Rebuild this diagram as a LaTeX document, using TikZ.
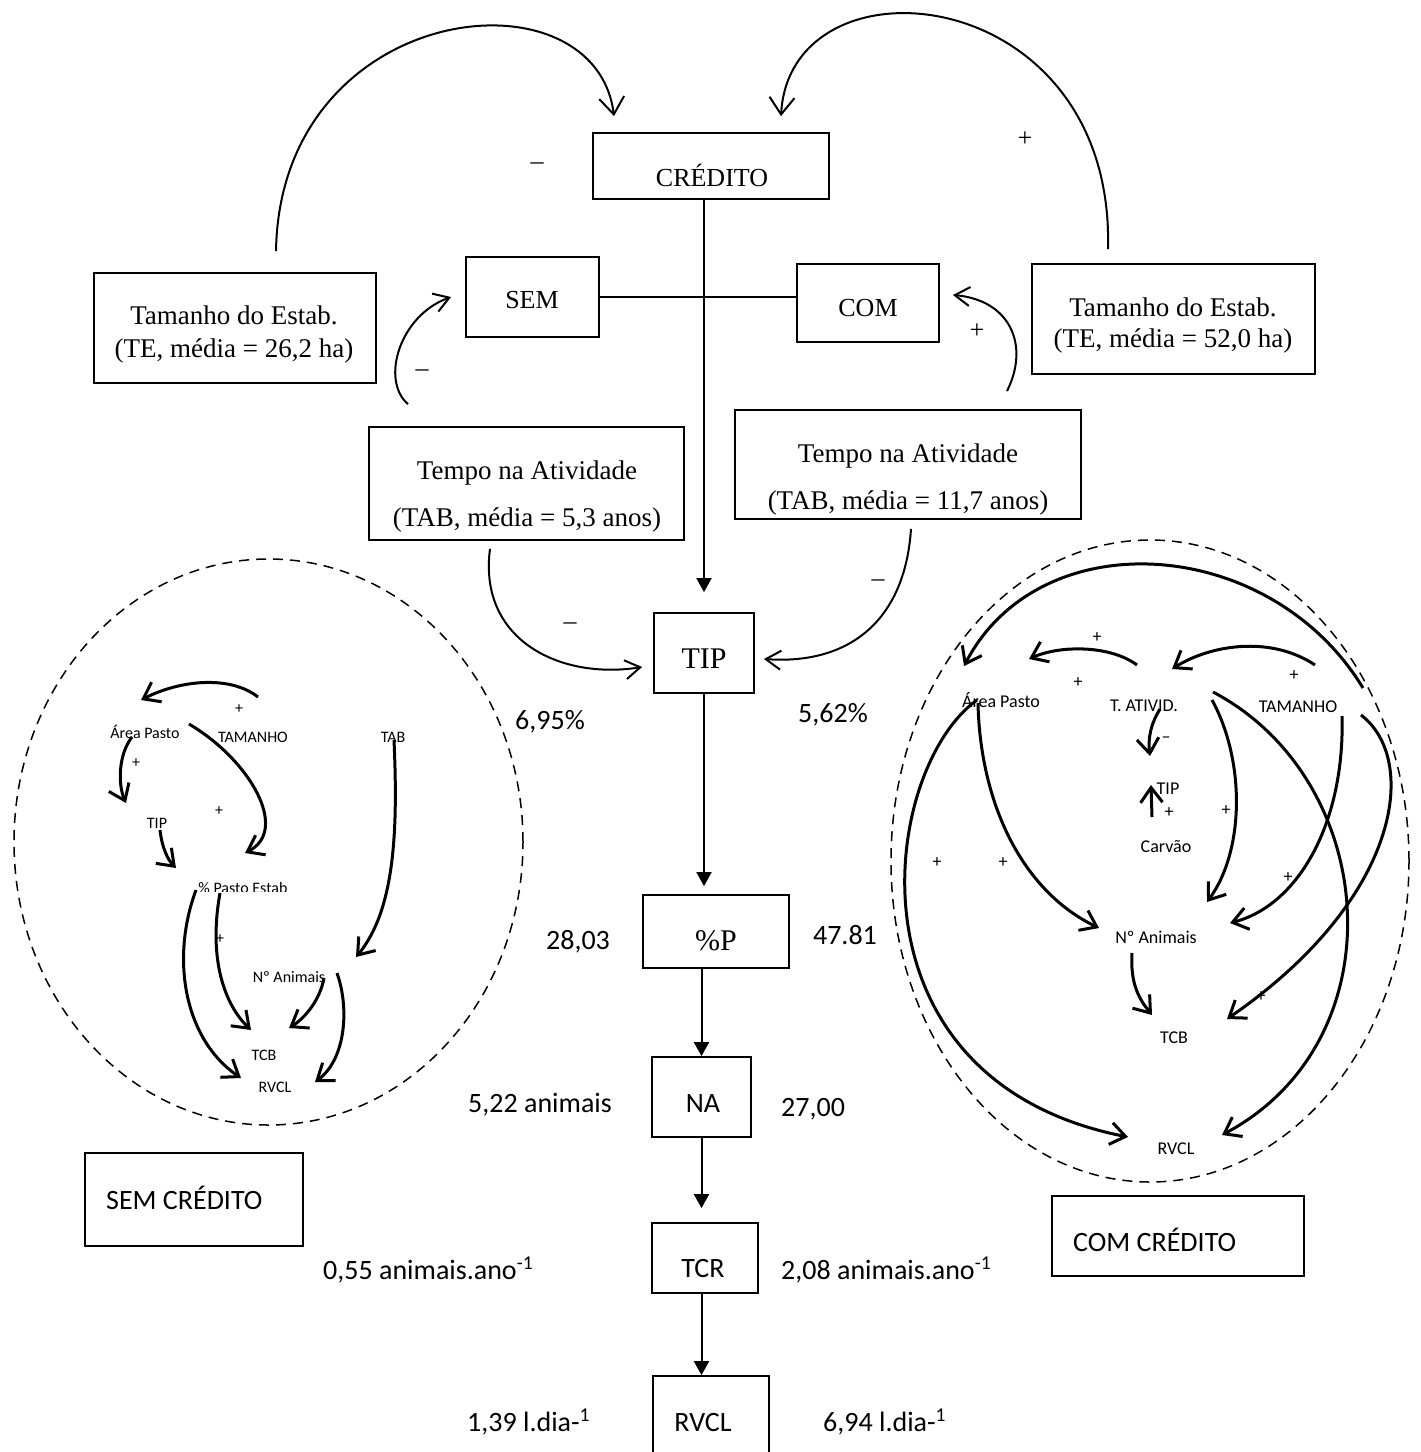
\documentclass[tikz,border=0pt]{standalone}
\usepackage{fontspec}
\setmainfont{Liberation Serif}
\newfontfamily\calib{Carlito}
\usetikzlibrary{arrows.meta}
\begin{document}
\begin{tikzpicture}[x=1pt,y=-1pt,
  box/.style={draw, line width=1.8pt, inner sep=0pt},
  tms/.style={font=\fontsize{26}{33}\selectfont, inner sep=0pt, anchor=base},
  tmsbig/.style={font=\fontsize{30}{36}\selectfont, inner sep=0pt, anchor=base},
  cal/.style={font=\calib\fontsize{28}{34}\selectfont, inner sep=0pt, anchor=base},
  calw/.style={cal, anchor=base west},
  sm/.style={font=\calib\fontsize{16}{19}\selectfont, inner sep=0pt, anchor=base},
  smr/.style={font=\calib\fontsize{18}{21}\selectfont, inner sep=0pt, anchor=base},
  chain/.style={line width=2pt, -{Triangle[length=14pt,width=15pt]}},
  bigarc/.style={line width=2pt, -{Straight Barb[length=17pt,width=25pt]}},
  sarr/.style={line width=2pt, -{Straight Barb[length=15pt,width=19pt]}},
  larr/.style={line width=3pt, -{Straight Barb[length=15pt,width=22pt]}},
  dashell/.style={line width=1.5pt, dash pattern=on 10pt off 7pt}
]
\useasboundingbox (0,0) rectangle (1421,1452);

% ---------- top boxes ----------
\node[box, minimum width=236pt, minimum height=66pt] (cred) at (711,166) {};
\node[tms] (credt) at (712,186) {CRÉDITO};
\node[box, minimum width=133pt, minimum height=80pt] (sem) at (532.5,297) {};
\node[tms] (semt) at (532,308) {SEM};
\node[box, minimum width=142pt, minimum height=78pt] (com) at (868,303) {};
\node[tms] (comt) at (868,316) {COM};

\node[box, minimum width=282pt, minimum height=110pt] (teL) at (235,328) {};
\node[font=\fontsize{27}{33}\selectfont, inner sep=0pt, align=center] (teLt) at (234,334) {Tamanho do Estab.\\(TE, média = 26,2 ha)};
\node[box, minimum width=283pt, minimum height=110pt] (teR) at (1173.5,319) {};
\node[font=\fontsize{27}{31}\selectfont, inner sep=0pt, align=center] (teRt) at (1173,325) {Tamanho do Estab.\\(TE, média = 52,0 ha)};

\node[box, minimum width=315pt, minimum height=113pt] (tempoL) at (526.5,483.5) {};
\node[font=\fontsize{27}{47}\selectfont, inner sep=0pt, align=center] (tempoLt) at (527,496) {Tempo na Atividade\\(TAB, média = 5,3 anos)};
\node[box, minimum width=346pt, minimum height=109pt] (tempoR) at (908,464.5) {};
\node[font=\fontsize{27}{47}\selectfont, inner sep=0pt, align=center] (tempoRt) at (908,479) {Tempo na Atividade\\(TAB, média = 11,7 anos)};

% ---------- central chain ----------
\node[box, minimum width=100pt, minimum height=80pt] (tipb) at (704,653) {};
\node[tmsbig] (tipt) at (704,668) {TIP};
\node[box, minimum width=146pt, minimum height=73pt] (pp) at (716,931.5) {};
\node[tmsbig] (ppt) at (716,950) {\%P};
\node[box, minimum width=99pt, minimum height=80pt] (na) at (701.5,1097) {};
\node[cal] (nat) at (703,1112) {NA};
\node[box, minimum width=106pt, minimum height=70pt] (tcr) at (705,1258) {};
\node[cal] (tcrt) at (703,1277) {TCR};
\node[box, minimum width=116pt, minimum height=94pt] (rv) at (711,1423) {};
\node[cal] (rvt) at (703,1431) {RVCL};

\node[box, minimum width=218pt, minimum height=93pt] (semc) at (194,1199.5) {};
\node[calw] (semct) at (106,1209) {SEM CRÉDITO};
\node[box, minimum width=252pt, minimum height=80pt] (comc) at (1178,1236) {};
\node[calw] (comct) at (1073,1251) {COM CRÉDITO};

% connectors of the top part
\draw[line width=1.6pt] (sem.east) -- (sem.east -| com.west);
\draw[chain, shorten >=20pt] (tipb.north |- cred.south) -- (tipb.north);
\draw[chain, shorten >=8pt] (tipb.south) -- (tipb.south |- pp.north);
\draw[chain] (na.north |- pp.south) -- (na.north);
\draw[chain, shorten >=14pt] (na.south) -- (na.south |- tcr.north);
\draw[chain] (na.south |- tcr.south) -- (na.south |- rv.north);

\draw[bigarc] ([shift={(41,-21)}]teL.north) .. controls (280,0) and (595,-35) .. ([shift={(-97,-16)}]cred.north);
\draw[bigarc] ([shift={(-65.5,-14)}]teR.north) .. controls (1115,-20) and (790,-50) .. ([shift={(70,-16)}]cred.north);
\draw[sarr] ([shift={(-118.5,-22)}]tempoL.north) .. controls (380,380) and (400,315) .. ([shift={(-14,0)}]sem.west);
\draw[sarr] ([shift={(99,-18)}]tempoR.north) .. controls (1030,345) and (1010,300) .. ([shift={(13,-8)}]com.east);
\draw[sarr] ([shift={(-36.5,8)}]tempoL.south) .. controls (478,640) and (560,680) .. ([shift={(-11,14)}]tipb.west);
\draw[sarr] ([shift={(3,9)}]tempoR.south) .. controls (905,620) and (850,665) .. ([shift={(9,6)}]tipb.east);

% signs of the top part
\node[tms] (s1) at (537,169) {–};
\node[tms] (s2) at (1025,146.5) {+};
\node[tms] (s3) at (422,376) {–};
\node[tms] (s4) at (977,338.5) {+};
\node[tms] (s5) at (570,629) {–};
\node[tms] (s6) at (878,586) {–};

% numeric labels
\node[cal] (v1) at (550,729) {6,95\%};
\node[cal] (v2) at (833,722) {5,62\%};
\node[cal] (v3) at (578,949) {28,03};
\node[cal] (v4) at (845,944) {47.81};
\node[calw] (v5) at (468,1112) {5,22 animais};
\node[calw] (v6) at (781,1116) {27,00};
\node[calw] (v7) at (323,1279) {0,55 animais.ano\textsuperscript{-1}};
\node[calw] (v8) at (781,1279) {2,08 animais.ano\textsuperscript{-1}};
\node[calw] (v9) at (467,1431) {1,39 l.dia-\textsuperscript{1}};
\node[calw] (v10) at (823,1431) {6,94 l.dia-\textsuperscript{1}};

% ---------- left circle ----------
\draw[dashell] (268.5,842) ellipse [x radius=254.5pt, y radius=283pt];
\node[sm] (lAP) at (145,738) {Área Pasto};
\node[sm] (lTA) at (253,742) {TAMANHO};
\node[sm] (lTAB) at (393,742) {TAB};
\node[sm] (lTIP) at (157,828) {TIP};
\begin{scope}
\clip (150,860) rectangle (340,891);
\node[sm] (lPE) at (243,893) {\% Pasto Estab};
\end{scope}
\node[sm] (lNA) at (289,982) {Nº Animais};
\node[sm] (lTCB) at (264,1060) {TCB};
\node[sm] (lRV) at (275,1092) {RVCL};
\node[sm] (lp1) at (239,713) {+};
\node[sm] (lp2) at (136,767) {+};
\node[sm] (lp3) at (219,815) {+};
\node[sm] (lp4) at (220,943) {+};

\draw[larr] ([shift={(5,-45)}]lTA.base) .. controls (230,675) and (180,680) .. ([shift={(-4,-38)}]lAP.base);
\draw[larr] ([shift={(-13,-1)}]lAP.base) .. controls (118,755) and (118,785) .. ([shift={(-31,-25)}]lTIP.base);
\draw[larr] ([shift={(3,2)}]lTIP.base) .. controls (162,848) and (168,860) .. ([shift={(-67,-25)}]lPE.base);
\draw[larr] ([shift={(44,-14)}]lAP.base) .. controls (250,760) and (290,830) .. ([shift={(2,-40)}]lPE.base);
\draw[larr] ([shift={(1,-2)}]lTAB.base) .. controls (398,830) and (395,910) .. ([shift={(67,-25)}]lNA.base);
\draw[larr] ([shift={(-47,-3)}]lPE.base) .. controls (170,960) and (185,1040) .. ([shift={(-34,-14)}]lRV.base);
\draw[larr] ([shift={(-23,0)}]lPE.base) .. controls (208,960) and (225,1005) .. ([shift={(-13,-30)}]lTCB.base);
\draw[larr] ([shift={(35,-4)}]lNA.base) .. controls (320,1000) and (305,1018) .. ([shift={(25,-32)}]lTCB.base);
\draw[larr] ([shift={(48,-9)}]lNA.base) .. controls (350,1010) and (345,1060) .. ([shift={(40,-10)}]lRV.base);

% ---------- right circle ----------
\draw[dashell] (1150,861) ellipse [x radius=259pt, y radius=321pt];
\node[smr] (rAP) at (1001,707) {Área Pasto};
\node[smr] (rTA) at (1144,711) {T. ATIVID.};
\node[smr] (rTM) at (1298,712) {TAMANHO};
\node[smr] (rTIP) at (1168,794) {TIP};
\node[smr] (rCV) at (1166,852) {Carvão};
\node[smr] (rNA) at (1156,943) {Nº Animais};
\node[smr] (rTCB) at (1174,1043) {TCB};
\node[smr] (rRV) at (1176,1154) {RVCL};
\node[smr] (rp1) at (1097,642) {+};
\node[smr] (rp2) at (1078,687) {+};
\node[smr] (rp3) at (1294,680) {+};
\node[smr] (rp4) at (1169,817) {+};
\node[smr] (rp5) at (1226,815) {+};
\node[smr] (rp6) at (937,867) {+};
\node[smr] (rp7) at (1003,867) {+};
\node[smr] (rp8) at (1288,882) {+};
\node[smr] (rp9) at (1261,1001) {+};
\node[smr] (rm1) at (1166,742) {–};

\draw[larr] ([shift={(65,-24)}]rTM.base) .. controls (1270,535) and (1040,520) .. ([shift={(-37,-41)}]rAP.base);
\draw[larr] ([shift={(-7,-46)}]rTA.base) .. controls (1110,645) and (1060,645) .. ([shift={(28,-48)}]rAP.base);
\draw[larr] ([shift={(17,-47)}]rTM.base) .. controls (1270,635) and (1210,645) .. ([shift={(28,-42)}]rTA.base);
\draw[larr] ([shift={(16,-2)}]rTA.base) .. controls (1150,725) and (1148,740) .. ([shift={(-18,-38)}]rTIP.base);
\draw[larr] ([shift={(-14,-35)}]rCV.base) -- ([shift={(-17,-9)}]rTIP.base);
\draw[larr] ([shift={(68,-11)}]rTA.base) .. controls (1245,760) and (1245,850) .. ([shift={(51,-41)}]rNA.base);
\draw[larr] ([shift={(69,-19)}]rTA.base) .. controls (1380,780) and (1400,1040) .. ([shift={(46,-19)}]rRV.base);
\draw[larr] ([shift={(-23,-4)}]rAP.base) .. controls (980,800) and (1020,890) .. ([shift={(-57,-15)}]rNA.base);
\draw[larr] ([shift={(-24,-7)}]rAP.base) .. controls (880,770) and (840,1080) .. ([shift={(-48,-17)}]rRV.base);
\draw[larr] ([shift={(44,4)}]rTM.base) .. controls (1345,820) and (1300,905) .. ([shift={(74,-20)}]rNA.base);
\draw[larr] ([shift={(63,3)}]rTM.base) .. controls (1420,760) and (1400,900) .. ([shift={(53,-24)}]rTCB.base);
\draw[larr] ([shift={(-24,10)}]rNA.base) .. controls (1130,985) and (1140,1000) .. ([shift={(-22,-28)}]rTCB.base);
\end{tikzpicture}
\end{document}
